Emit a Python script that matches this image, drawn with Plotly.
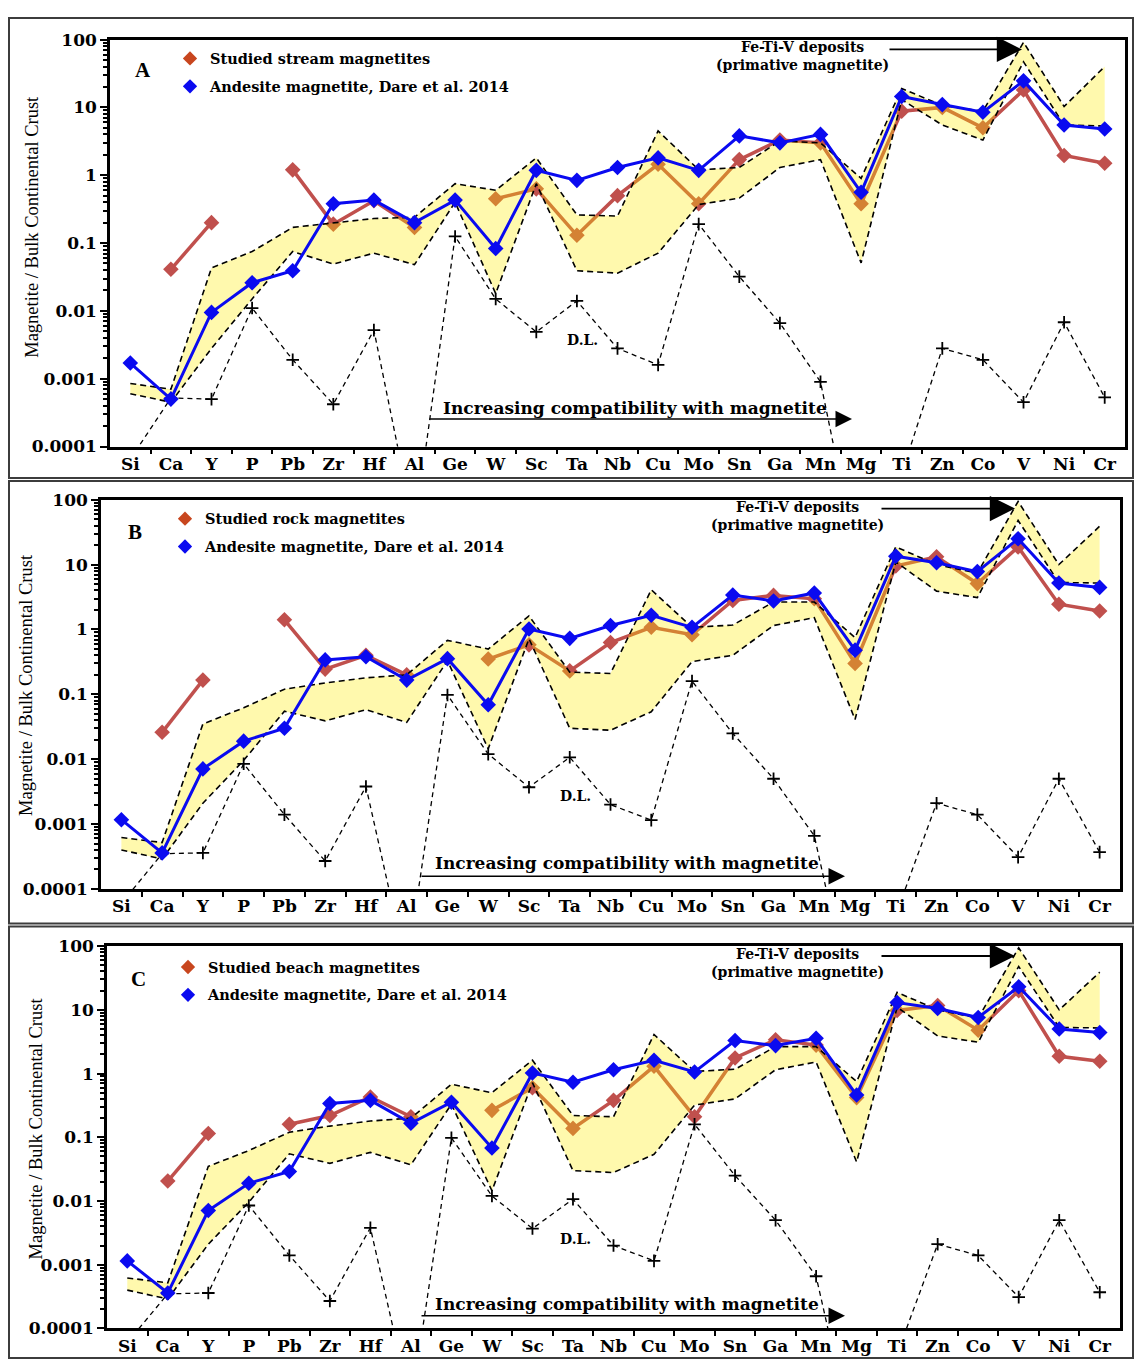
import plotly.graph_objects as go

W, H = 1135, 1370

elements = ["Si", "Ca", "Y", "P", "Pb", "Zr", "Hf", "Al", "Ge", "W", "Sc", "Ta", "Nb",
            "Cu", "Mo", "Sn", "Ga", "Mn", "Mg", "Ti", "Zn", "Co", "V", "Ni", "Cr"]

y_tick_vals = [0.0001, 0.001, 0.01, 0.1, 1, 10, 100]
y_tick_text = ["0.0001", "0.001", "0.01", "0.1", "1", "10", "100"]

# ---------------- Panel A (stream) ----------------
studied_A = [None, 0.041, 0.2, None, 1.2, 0.19, 0.42, 0.17, None, 0.45, 0.63, 0.13, 0.5,
             1.45, 0.38, 1.7, 3.3, 3.0, 0.38, 8.8, 10, 5.0, 18, 1.95, 1.5]
andesite_A = [0.0017, 0.0005, 0.0095, 0.026, 0.039, 0.38, 0.43, 0.2, 0.43, 0.083, 1.18, 0.84,
              1.3, 1.8, 1.18, 3.8, 3.0, 4.0, 0.56, 14.5, 11, 8.5, 24.6, 5.5, 4.8]
field_upper_A = [0.00085, 0.0007, 0.043, 0.075, 0.17, 0.2, 0.23, 0.24, 0.75, 0.6, 1.8, 0.26,
                 0.25, 4.5, 1.2, 1.3, 3.2, 3.0, 0.9, 19, 10.7, 8.8, 91, 10.3, 40]
field_lower_A = [0.0006, 0.00045, 0.0028, 0.015, 0.075, 0.049, 0.071, 0.048, 0.4, 0.018, 0.75,
                 0.039, 0.036, 0.071, 0.37, 0.46, 1.3, 1.7, 0.051, 13, 5.5, 3.3, 47, 5.5, 5.3]
dl_A = [6.5e-5, 5.2e-4, 5.0e-4, 0.011, 0.0019, 0.00042, 0.0052, 6e-6, 0.125, 0.015, 0.0049,
        0.014, 0.0028, 0.0016, 0.19, 0.032, 0.0066, 0.0009, 1.1e-6, 4e-5, 0.0028, 0.0019,
        0.00045, 0.0068, 0.00053]

# ---------------- Panel B (rock) ----------------
studied_B = [None, 0.026, 0.166, None, 1.41, 0.245, 0.4, 0.2, None, 0.35, 0.58, 0.23, 0.63,
             1.08, 0.83, 2.8, 3.35, 2.97, 0.30, 9.5, 13.2, 5.1, 18.7, 2.45, 1.93]
andesite_B = [0.00117, 0.00036, 0.0071, 0.019, 0.030, 0.34, 0.38, 0.166, 0.355, 0.069, 1.02,
              0.73, 1.15, 1.66, 1.08, 3.4, 2.75, 3.65, 0.48, 13.5, 10.7, 7.8, 25, 5.2, 4.45]
field_upper_B = [0.00062, 0.00052, 0.035, 0.062, 0.12, 0.15, 0.18, 0.2, 0.68, 0.5, 1.62, 0.22,
                 0.21, 4.1, 1.08, 1.17, 2.65, 2.65, 0.75, 18.8, 10, 7.4, 94, 10, 39]
field_lower_B = [0.0004, 0.00029, 0.0021, 0.0096, 0.055, 0.039, 0.058, 0.037, 0.33, 0.0145,
                 0.72, 0.03, 0.028, 0.054, 0.32, 0.4, 1.15, 1.52, 0.041, 11, 3.9, 3.1, 48, 5.3, 5.2]
dl_B = [6e-5, 0.00035, 0.00036, 0.0085, 0.0014, 0.00027, 0.0038, 6e-6, 0.098, 0.012, 0.0037,
        0.0107, 0.002, 0.00115, 0.16, 0.025, 0.005, 0.00066, 1e-6, 4e-5, 0.0021, 0.0014,
        0.00031, 0.005, 0.00037]

# ---------------- Panel C (beach) ----------------
studied_C = [None, 0.0206, 0.115, None, 0.16, 0.22, 0.43, 0.21, None, 0.265, 0.6, 0.138, 0.38,
             1.3, 0.21, 1.76, 3.4, 2.8, 0.42, 9.8, 11.7, 4.8, 20, 1.87, 1.56]
andesite_C = [0.00115, 0.00036, 0.0071, 0.019, 0.029, 0.34, 0.38, 0.166, 0.355, 0.068, 1.02,
              0.73, 1.15, 1.62, 1.06, 3.3, 2.75, 3.57, 0.46, 13, 10.5, 7.6, 23, 5.0, 4.4]
field_upper_C = field_upper_B
field_lower_C = field_lower_B
dl_C = dl_B

legend_labels = ["Studied stream magnetites", "Studied rock magnetites", "Studied beach magnetites"]
andesite_label = "Andesite magnetite, Dare et al. 2014"

panels = [
    dict(key="A", studied=studied_A, andesite=andesite_A, upper=field_upper_A, lower=field_lower_A,
         dl=dl_A, label=legend_labels[0],
         plot=(110, 1125, 30, 443), frame=(9, 8, 1133, 475), letter=(143, 61),
         legend=(170, 33), fe=(802, 47), fe_arrow=(888, 1022, 40),
         inc=(635, 404), inc_arrow=(428, 852, 415), dl_lab=(582, 335), ytitle=(32, 220)),
    dict(key="B", studied=studied_B, andesite=andesite_B, upper=field_upper_B, lower=field_lower_B,
         dl=dl_B, label=legend_labels[1],
         plot=(101, 1120, 497, 892), frame=(9, 478, 1133, 927), letter=(135, 530),
         legend=(165, 500), fe=(797, 513), fe_arrow=(880, 1015, 506),
         inc=(627, 866), inc_arrow=(420, 845, 879), dl_lab=(575, 798), ytitle=(26, 685)),
    dict(key="C", studied=studied_C, andesite=andesite_C, upper=field_upper_C, lower=field_lower_C,
         dl=dl_C, label=legend_labels[2],
         plot=(107, 1120, 950, 1338), frame=(9, 930, 1133, 1368), letter=(138, 983),
         legend=(168, 955), fe=(797, 967), fe_arrow=(880, 1015, 960),
         inc=(627, 1313), inc_arrow=(420, 845, 1325), dl_lab=(575, 1247), ytitle=(36, 1135)),
]


def fx(x):
    return x / W


def fy(y):
    return 1 - y / H


RED = "#c0504d"
BLUE = "#0a0af0"
BOLD_FONT = "DejaVu Serif"

n = len(elements)
xpos = list(range(n))
bounds = [i + 0.5 for i in range(n - 1)]
minor_y = [k * 10.0 ** e for e in range(-4, 2) for k in range(2, 10)]

fig = go.Figure()
layout_axes = {}
annotations = []
shapes = []
legends = {}

for i, p in enumerate(panels):
    sfx = "" if i == 0 else str(i + 1)
    xa, ya = "x" + sfx, "y" + sfx
    leg = "legend" + sfx
    x0, x1, y0, y1 = p["plot"]

    # studied (drawn first so the translucent field tints it orange)
    fig.add_trace(go.Scatter(x=xpos, y=p["studied"], mode="lines+markers", connectgaps=False,
                             line=dict(color=RED, width=3.5),
                             marker=dict(symbol="diamond", size=12, color=RED),
                             xaxis=xa, yaxis=ya, showlegend=False, hoverinfo="skip"))
    # field fill
    fig.add_trace(go.Scatter(x=xpos + xpos[::-1], y=p["upper"] + p["lower"][::-1],
                             mode="lines", fill="toself", fillcolor="rgba(255,235,0,0.32)",
                             line=dict(width=0), xaxis=xa, yaxis=ya, showlegend=False,
                             hoverinfo="skip"))
    for bound in (p["upper"], p["lower"]):
        fig.add_trace(go.Scatter(x=xpos, y=bound, mode="lines",
                                 line=dict(color="black", width=1.6, dash="6px,4px"),
                                 xaxis=xa, yaxis=ya, showlegend=False, hoverinfo="skip"))
    # detection limit
    fig.add_trace(go.Scatter(x=xpos, y=p["dl"], mode="lines+markers",
                             line=dict(color="black", width=1.3, dash="5px,4px"),
                             marker=dict(symbol="cross-thin", size=9,
                                         line=dict(color="black", width=1.8)),
                             xaxis=xa, yaxis=ya, showlegend=False, hoverinfo="skip"))
    # andesite
    fig.add_trace(go.Scatter(x=xpos, y=p["andesite"], mode="lines+markers",
                             line=dict(color=BLUE, width=3),
                             marker=dict(symbol="diamond", size=12, color=BLUE),
                             xaxis=xa, yaxis=ya, showlegend=False, hoverinfo="skip"))
    # legend entries
    fig.add_trace(go.Scatter(x=[None], y=[None], mode="markers", name=p["label"],
                             marker=dict(symbol="diamond", size=11, color="#c8461e"),
                             xaxis=xa, yaxis=ya, legend=leg, legendgroup="s" + sfx))
    fig.add_trace(go.Scatter(x=[None], y=[None], mode="markers", name=andesite_label,
                             marker=dict(symbol="diamond", size=11, color=BLUE),
                             xaxis=xa, yaxis=ya, legend=leg, legendgroup="a" + sfx))

    lx, ly = p["legend"]
    legends[leg] = dict(x=fx(lx), y=fy(ly), xanchor="left", yanchor="top",
                        bgcolor="rgba(0,0,0,0)", borderwidth=0, tracegroupgap=6,
                        font=dict(family=BOLD_FONT, size=14.5, color="black", weight="bold"))

    xdom = [fx(x0), fx(x1)]
    ydom = [fy(y1), fy(y0)]
    xtickfont = dict(family=BOLD_FONT, size=17, color="black", weight="bold")
    ytickfont = dict(family=BOLD_FONT, size=17, color="black", weight="bold")
    layout_axes["xaxis" + sfx] = dict(
        domain=xdom, anchor=ya, range=[-0.5, n - 0.5], tickmode="array", tickvals=xpos,
        ticktext=elements, ticks="", showgrid=False, zeroline=False, showline=True,
        linecolor="black", linewidth=2.5, mirror=True, tickfont=xtickfont,
        minor=dict(tickmode="array", tickvals=bounds, ticks="outside", ticklen=5,
                   tickwidth=2, tickcolor="black", showgrid=False))
    layout_axes["yaxis" + sfx] = dict(
        domain=ydom, anchor=xa, type="log", range=[-4, 2], tickmode="array",
        tickvals=y_tick_vals, ticktext=y_tick_text, ticks="outside", ticklen=7, tickwidth=2,
        tickcolor="black", showgrid=False, zeroline=False, showline=True, linecolor="black",
        linewidth=2.5, mirror=True, tickfont=ytickfont,
        minor=dict(tickmode="array", tickvals=minor_y, ticks="outside", ticklen=4,
                   tickwidth=1.5, tickcolor="black", showgrid=False))
    # overlay axes for inward tick halves
    ox = str(i + 4)
    layout_axes["xaxis" + ox] = dict(
        overlaying=xa, anchor=ya, side="bottom", range=[-0.5, n - 0.5], tickmode="array",
        tickvals=bounds, ticks="inside", ticklen=5, tickwidth=2, tickcolor="black",
        showticklabels=False, showgrid=False, zeroline=False, showline=False)
    layout_axes["yaxis" + ox] = dict(
        overlaying=ya, anchor=xa, side="left", type="log", range=[-4, 2], tickmode="array",
        tickvals=y_tick_vals, ticks="inside", ticklen=7, tickwidth=2, tickcolor="black",
        showticklabels=False, showgrid=False, zeroline=False, showline=False,
        minor=dict(tickmode="array", tickvals=minor_y, ticks="inside", ticklen=4,
                   tickwidth=1.5, tickcolor="black", showgrid=False))

    # frame
    f0, g0, f1, g1 = p["frame"]
    shapes.append(dict(type="rect", xref="paper", yref="paper", x0=fx(f0), x1=fx(f1),
                       y0=fy(g1), y1=fy(g0), line=dict(color="#3c3c3c", width=2)))

    # texts
    ax_, ay_ = p["letter"]
    annotations.append(dict(text=p["key"], x=fx(ax_), y=fy(ay_), xref="paper", yref="paper",
                            showarrow=False, xanchor="center", yanchor="middle",
                            font=dict(family="Liberation Serif", size=21, color="black",
                                      weight="bold")))
    fxc, fyc = p["fe"]
    annotations.append(dict(text="Fe-Ti-V deposits<br>(primative magnetite)", x=fx(fxc),
                            y=fy(fyc), xref="paper", yref="paper", showarrow=False,
                            xanchor="center", yanchor="middle", align="center",
                            font=dict(family=BOLD_FONT, size=14, color="black", weight="bold")))
    ta, ha, ya_ = p["fe_arrow"]
    annotations.append(dict(text="", x=fx(ha), y=fy(ya_), xref="paper", yref="paper",
                            showarrow=True, ax=ta - ha, ay=0, axref="pixel", ayref="pixel",
                            arrowhead=2, arrowsize=2.8, arrowwidth=1.8, arrowcolor="black"))
    ix, iy = p["inc"]
    annotations.append(dict(text="Increasing compatibility with magnetite", x=fx(ix), y=fy(iy),
                            xref="paper", yref="paper", showarrow=False, xanchor="center",
                            yanchor="middle",
                            font=dict(family=BOLD_FONT, size=17, color="black", weight="bold")))
    ta, ha, ya_ = p["inc_arrow"]
    annotations.append(dict(text="", x=fx(ha), y=fy(ya_), xref="paper", yref="paper",
                            showarrow=True, ax=ta - ha, ay=0, axref="pixel", ayref="pixel",
                            arrowhead=2, arrowsize=2.2, arrowwidth=1.5, arrowcolor="black"))
    dx, dy = p["dl_lab"]
    annotations.append(dict(text="D.L.", x=fx(dx), y=fy(dy), xref="paper", yref="paper",
                            showarrow=False, xanchor="center", yanchor="middle",
                            font=dict(family=BOLD_FONT, size=14, color="black", weight="bold")))
    tx, ty = p["ytitle"]
    annotations.append(dict(text="Magnetite / Bulk Continental Crust", x=fx(tx), y=fy(ty),
                            xref="paper", yref="paper", showarrow=False, textangle=-90,
                            xanchor="center", yanchor="middle",
                            font=dict(family="Liberation Serif", size=18.5, color="black")))

fig.update_layout(
    width=W, height=H, margin=dict(l=0, r=0, t=0, b=0),
    paper_bgcolor="white", plot_bgcolor="white",
    showlegend=True, annotations=annotations, shapes=shapes,
    **layout_axes, **legends,
)

post = ("document.documentElement.style.margin='0';document.body.style.margin='0';"
        "document.body.style.padding='0';document.documentElement.style.overflow='hidden';"
        "var g=document.getElementById('{plot_id}');g.style.position='absolute';"
        "g.style.left='0px';g.style.top='0px';")

fig.write_html("out.html", post_script=post, config={"displayModeBar": False})
